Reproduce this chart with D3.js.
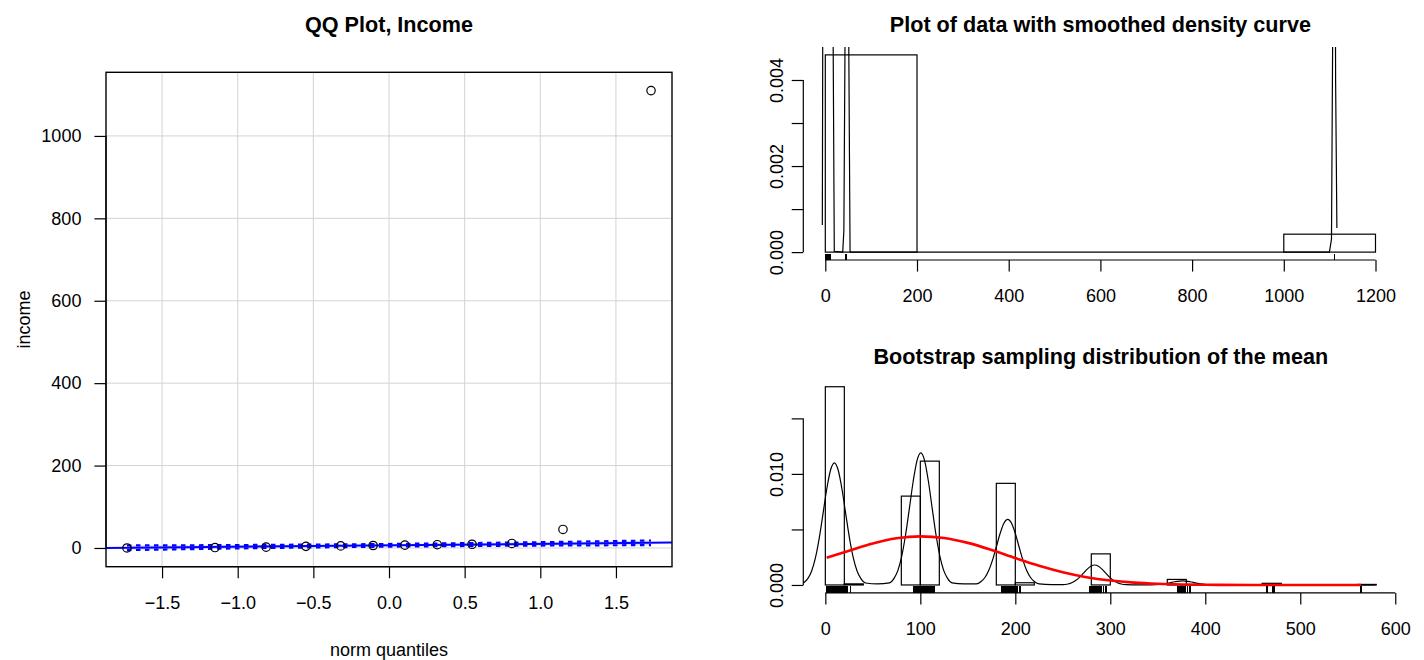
<!DOCTYPE html>
<html>
<head>
<meta charset="utf-8">
<script src="https://cdn.jsdelivr.net/npm/d3@7"></script>
<style>
  html, body { margin: 0; padding: 0; background: #ffffff; }
  svg { display: block; font-family: "Liberation Sans", Arial, Helvetica, sans-serif; }
</style>
</head>
<body>
<svg id="chart" width="1424" height="660"></svg>
<script>
// ---------- QQ plot of income ----------
const income = [0, 1, 2, 4, 5, 6, 7, 8, 9, 11, 45, 1110];
const normQuantiles = [-1.732, -1.150, -0.812, -0.549, -0.319, -0.105, 0.105, 0.319, 0.549, 0.812, 1.150, 1.732];
const envUpper = [6.0, 6.8, 7.5, 8.1, 8.7, 9.3, 10.1, 10.9, 11.9, 13.1, 14.8, 18.2];
const envLower = [-5.2, -1.8, -0.1, 1.1, 2.1, 2.9, 3.6, 4.3, 4.9, 5.5, 6.2, 6.9];
const refIntercept = 6.5;
const refSlope = 3.5;
const qqXTicks = [-1.5, -1.0, -0.5, 0.0, 0.5, 1.0, 1.5];
const qqYTicks = [0, 200, 400, 600, 800, 1000];

// ---------- histogram of the raw data with a kernel density ----------
const rawBreaks = [0, 200, 400, 600, 800, 1000, 1200];
const rawCounts = [11, 0, 0, 0, 0, 1];
const rawDensX = [-6.5, -5.8, -5.0, 15.0, 19.6, 38.0, 40.5, 43.6, 47.0, 50.5, 54.0, 1099.5, 1104.0, 1107.0, 1110.0, 1113.0, 1115.8];
const rawDensY = [0.00063, 0.0040, 0.0090, 0.0090, 0.00002, 0.0, 0.0005, 0.0060, 0.0155, 0.0060, 0.0, 0.0, 0.0003, 0.0057, 0.0155, 0.0040, 0.00056];
const rawXTicks = [0, 200, 400, 600, 800, 1000, 1200];
const rawYTicks = [0, 0.001, 0.002, 0.003, 0.004];
const rawYLabels = ["0.000", "", "0.002", "", "0.004"];

// ---------- bootstrap distribution of the mean ----------
const bootBreaks = [0, 20, 40, 60, 80, 100, 120, 140, 160, 180, 200, 220, 240, 260, 280, 300,
                    320, 340, 360, 380, 400, 420, 440, 460, 480, 500, 520, 540, 560, 580];
const bootCounts = [357, 2, 0, 0, 160, 223, 0, 0, 0, 183, 4, 0, 0, 0, 56,
                    0, 0, 0, 10, 1, 0, 0, 0, 3, 0, 0, 0, 0, 1];
const bootDensX = [-23, -18.5, -14.5, -10.5, -6.5, -2.5, 1.5, 5.5, 9.5, 13.5, 17.5, 21.5, 25.5, 29.5, 33.5, 37.5, 42.5, 55,
                   67.5, 72.5, 76.5, 80.5, 84.5, 88.5, 92.5, 96.5, 100.5, 104.5, 108.5, 112.5, 116.5, 120.5, 124.5, 128.5, 133.5, 146,
                   159, 164, 168, 172, 176, 180, 184, 188, 192, 196, 200, 204, 208, 212, 216, 220, 225, 238,
                   250.5, 255.5, 259.5, 263.5, 267.5, 271.5, 275.5, 279.5, 283.5, 287.5, 291.5, 295.5, 299.5, 303.5, 307.5, 311.5, 316.5,
                   330, 343, 352, 360, 368, 376, 384, 392, 400, 409, 425, 445, 457, 469, 481, 493, 530, 556, 564, 572, 579];
const bootDensY = [0.00018, 0.00057, 0.00124, 0.00242, 0.00418, 0.00638, 0.00864, 0.01035, 0.0110, 0.01035, 0.00864, 0.00638, 0.00418, 0.00242, 0.00124, 0.00057, 0.00018, 0.0001,
                   0.00019, 0.00062, 0.00134, 0.00262, 0.00452, 0.0069, 0.00934, 0.0112, 0.0119, 0.0112, 0.00934, 0.0069, 0.00452, 0.00262, 0.00134, 0.00062, 0.00019, 0.0001,
                   0.00009, 0.00031, 0.00067, 0.0013, 0.00224, 0.00342, 0.00463, 0.00555, 0.0059, 0.00555, 0.00463, 0.00342, 0.00224, 0.0013, 0.00067, 0.00031, 0.00009, 0.00003,
                   0.00003, 0.00009, 0.0002, 0.0004, 0.00068, 0.00104, 0.00141, 0.00169, 0.0018, 0.00169, 0.00141, 0.00104, 0.00068, 0.0004, 0.0002, 0.00009, 0.00003,
                   0.00001, 0.00001, 0.00004, 0.00014, 0.00029, 0.00037, 0.00029, 0.00014, 0.00004, 0.00001, 0.00001, 0.00001, 0.00004, 0.00007, 0.00004, 0.00001, 0.000002, 0.00001, 0.000015, 0.00001, 0.000003];
const normalX = [1.4, 25, 50, 75, 100, 125, 150, 175, 200, 225, 250, 275, 300, 325, 350, 375, 400, 450, 500, 564];
const normalY = [0.00246, 0.00309, 0.00374, 0.00420, 0.00438, 0.00423, 0.00379, 0.00315, 0.00242, 0.00173, 0.00115,
                 0.00070, 0.00040, 0.00021, 0.000104, 0.000047, 0.00002, 0.000003, 0.0, 0.0];
const bootRug = [1.4, 2.5, 3.3, 4.1, 4.8, 5.5, 6.2, 6.9, 7.6, 8.3, 9.0, 9.7, 10.4, 11.2, 12.0, 12.8, 13.6, 14.5, 15.4, 16.3, 17.3, 18.4, 19.6, 21.0, 22.7, 26.8,
                 92.6, 93.4, 94.1, 94.8, 95.5, 96.2, 96.9, 97.6, 98.3, 99.0, 99.7, 100.4, 101.1, 101.8, 102.5, 103.3, 104.1, 104.9, 105.8, 106.8, 107.8, 108.9, 110.1, 111.5, 113.0, 114.5,
                 185.4, 186.3, 187.1, 187.9, 188.7, 189.5, 190.3, 191.1, 191.9, 192.7, 193.6, 194.5, 195.5, 196.6, 197.8, 199.1, 200.6, 202.4, 204.1, 205.6,
                 278.6, 279.5, 280.3, 281.1, 281.9, 282.7, 283.6, 284.5, 285.5, 286.6, 287.8, 289.3, 291.0, 293.1, 295.6,
                 370.7, 371.6, 372.5, 373.4, 374.3, 375.3, 376.4, 377.7, 379.2, 381.0, 383.9,
                 464.2, 465.1, 471.4, 472.4,
                 564.0];
const bootXTicks = [0, 100, 200, 300, 400, 500, 600];
const bootYTicks = [0, 0.005, 0.010, 0.015];
const bootYLabels = ["0.000", "", "0.010", ""];

// ---------- drawing ----------
const svg = d3.select("#chart");
const FS = 18;          // axis text size
const FS_TITLE = 21.6;  // main titles
const INK = "#000000";
const LW = 1.2;         // default line width

// padded domain (4% each side)
const pad = (lo, hi) => { const r = hi - lo; return [lo - 0.04 * r, hi + 0.04 * r]; };

function styleAxis(g) {
  g.selectAll("line").attr("stroke", INK).attr("stroke-width", LW);
  g.selectAll("text").attr("fill", INK).attr("font-size", FS).attr("font-family", null);
  g.select(".domain").remove();
}

// bottom axis in base-graphics style: line spans first..last tick
function bottomAxis(x, y0, ticks, fmt) {
  const g = svg.append("g").attr("transform", `translate(0,${y0})`)
    .call(d3.axisBottom(x).tickValues(ticks).tickFormat(fmt).tickSize(11.6).tickPadding(18));
  styleAxis(g);
  g.append("line").attr("x1", x(ticks[0])).attr("x2", x(ticks[ticks.length - 1]))
    .attr("y1", 0).attr("y2", 0).attr("stroke", INK).attr("stroke-width", LW);
  return g;
}

function leftAxis(y, x0, ticks, labels, rotated) {
  const g = svg.append("g").attr("transform", `translate(${x0},0)`)
    .call(d3.axisLeft(y).tickValues(ticks).tickFormat((d, i) => labels[i]).tickSize(11.6).tickPadding(13));
  styleAxis(g);
  if (rotated) {
    g.selectAll(".tick text")
      .attr("x", null).attr("dy", "0.36em").attr("text-anchor", "middle")
      .attr("transform", "translate(-27,0) rotate(-90)");
  }
  g.append("line").attr("y1", y(ticks[0])).attr("y2", y(ticks[ticks.length - 1]))
    .attr("x1", 0).attr("x2", 0).attr("stroke", INK).attr("stroke-width", LW);
  return g;
}

function title(text, cx, cy) {
  svg.append("text").attr("x", cx).attr("y", cy).attr("dy", "0.36em")
    .attr("text-anchor", "middle").attr("font-weight", "bold").attr("font-size", FS_TITLE)
    .attr("fill", INK).text(text);
}

function clip(id, x0, y0, x1, y1) {
  svg.append("clipPath").attr("id", id).append("rect")
    .attr("x", x0).attr("y", y0).attr("width", x1 - x0).attr("height", y1 - y0);
  return `url(#${id})`;
}

// ===== Left panel: QQ plot =====
(function () {
  const L = 106, R = 672, T = 72.3, B = 566.7;
  const x = d3.scaleLinear().domain(pad(d3.min(normQuantiles), d3.max(normQuantiles))).range([L, R]);
  const y = d3.scaleLinear().domain(pad(-1, d3.max(income))).range([B, T]);
  const cp = clip("qqclip", L, T, R, B);

  const grid = svg.append("g").attr("stroke", "#d3d3d3").attr("stroke-width", 1);
  grid.selectAll(".gx").data(qqXTicks).join("line")
    .attr("x1", d => x(d)).attr("x2", d => x(d)).attr("y1", T).attr("y2", B);
  grid.selectAll(".gy").data(qqYTicks).join("line")
    .attr("y1", d => y(d)).attr("y2", d => y(d)).attr("x1", L).attr("x2", R);

  const pts = normQuantiles.map((q, i) => ({ q, v: income[i], up: envUpper[i], lo: envLower[i] }));

  // confidence envelope
  svg.append("path").datum(pts).attr("clip-path", cp)
    .attr("d", d3.area().x(d => x(d.q)).y0(d => y(d.lo)).y1(d => y(d.up)))
    .attr("fill", "#0000ff").attr("fill-opacity", 0.15);
  ["up", "lo"].forEach(k => {
    svg.append("path").datum(pts).attr("clip-path", cp)
      .attr("d", d3.line().x(d => x(d.q)).y(d => y(d[k])))
      .attr("fill", "none").attr("stroke", "#0000ff").attr("stroke-width", 2.2)
      .attr("stroke-dasharray", "4.5,4.5");
  });

  // reference line through the quartiles
  const xd = x.domain();
  svg.append("line").attr("clip-path", cp)
    .attr("x1", x(xd[0])).attr("y1", y(refIntercept + refSlope * xd[0]))
    .attr("x2", x(xd[1])).attr("y2", y(refIntercept + refSlope * xd[1]))
    .attr("stroke", "#0000ff").attr("stroke-width", 2);

  // points
  svg.append("g").selectAll("circle").data(pts).join("circle")
    .attr("cx", d => x(d.q)).attr("cy", d => y(d.v)).attr("r", 4.2)
    .attr("fill", "none").attr("stroke", INK).attr("stroke-width", 1.2);

  svg.append("rect").attr("x", L).attr("y", T).attr("width", R - L).attr("height", B - T)
    .attr("fill", "none").attr("stroke", INK).attr("stroke-width", 1.4);

  bottomAxis(x, B, qqXTicks, d3.format(".1f"));
  leftAxis(y, L, qqYTicks, qqYTicks.map(String), false);

  title("QQ Plot, Income", (L + R) / 2, 24);
  svg.append("text").attr("x", (L + R) / 2).attr("y", 650).attr("dy", "0.36em")
    .attr("text-anchor", "middle").attr("font-size", FS).attr("fill", INK).text("norm quantiles");
  svg.append("text").attr("transform", `translate(24,${(T + B) / 2}) rotate(-90)`).attr("dy", "0.36em")
    .attr("text-anchor", "middle").attr("font-size", FS).attr("fill", INK).text("income");
})();

// histogram helper: rectangles (border only) from breaks + densities
function drawHist(x, y, breaks, dens) {
  const bins = dens.map((d, i) => ({ x0: breaks[i], x1: breaks[i + 1], d }));
  svg.append("g").selectAll("rect").data(bins).join("rect")
    .attr("x", b => x(b.x0)).attr("width", b => x(b.x1) - x(b.x0))
    .attr("y", b => y(b.d)).attr("height", b => y(0) - y(b.d))
    .attr("fill", "none").attr("stroke", INK).attr("stroke-width", LW);
}

function drawRug(x, yBottom, height, values) {
  svg.append("g").attr("shape-rendering", "crispEdges")
    .selectAll("line").data(values).join("line")
    .attr("x1", d => x(d)).attr("x2", d => x(d))
    .attr("y1", yBottom).attr("y2", yBottom - height)
    .attr("stroke", INK).attr("stroke-width", 1.3);
}

// ===== Top right: data histogram + density =====
(function () {
  const L = 803.3, R = 1397.5, T = 47, B = 260;
  const n = d3.sum(rawCounts);
  const dens = rawCounts.map((c, i) => c / (n * (rawBreaks[i + 1] - rawBreaks[i])));
  const x = d3.scaleLinear().domain(pad(rawBreaks[0], rawBreaks[rawBreaks.length - 1])).range([L, R]);
  const y = d3.scaleLinear().domain(pad(0, d3.max(dens))).range([B, T]);
  const cp = clip("rawclip", L, T, R, B);

  drawHist(x, y, rawBreaks, dens);
  svg.append("path").attr("clip-path", cp)
    .datum(rawDensX.map((v, i) => [v, rawDensY[i]]))
    .attr("d", d3.line().x(d => x(d[0])).y(d => y(d[1])))
    .attr("fill", "none").attr("stroke", INK).attr("stroke-width", LW);
  drawRug(x, B, 0.03 * (B - T), income);

  bottomAxis(x, B, rawXTicks, d3.format("d"));
  leftAxis(y, L, rawYTicks, rawYLabels, true);
  title("Plot of data with smoothed density curve", (L + R) / 2, 24);
})();

// ===== Bottom right: bootstrap means =====
(function () {
  const L = 803.3, R = 1398.3, T = 378.8, B = 592.9;
  const n = d3.sum(bootCounts);
  const dens = bootCounts.map((c, i) => c / (n * (bootBreaks[i + 1] - bootBreaks[i])));
  const x = d3.scaleLinear().domain(pad(bootBreaks[0], bootBreaks[bootBreaks.length - 1])).range([L, R]);
  const y = d3.scaleLinear().domain(pad(0, d3.max(dens))).range([B, T]);
  const cp = clip("bootclip", L, T, R, B);

  drawHist(x, y, bootBreaks, dens);
  svg.append("path").attr("clip-path", cp)
    .datum(bootDensX.map((v, i) => [v, bootDensY[i]]))
    .attr("d", d3.line().curve(d3.curveMonotoneX).x(d => x(d[0])).y(d => y(d[1])))
    .attr("fill", "none").attr("stroke", INK).attr("stroke-width", LW);
  svg.append("path").attr("clip-path", cp)
    .datum(normalX.map((v, i) => [v, normalY[i]]))
    .attr("d", d3.line().curve(d3.curveMonotoneX).x(d => x(d[0])).y(d => y(d[1])))
    .attr("fill", "none").attr("stroke", "#ff0000").attr("stroke-width", 2.6);
  drawRug(x, B, 0.03 * (B - T), bootRug);

  bottomAxis(x, B, bootXTicks, d3.format("d"));
  leftAxis(y, L, bootYTicks, bootYLabels, true);
  title("Bootstrap sampling distribution of the mean", (L + R) / 2, 356);
})();
</script>
</body>
</html>
